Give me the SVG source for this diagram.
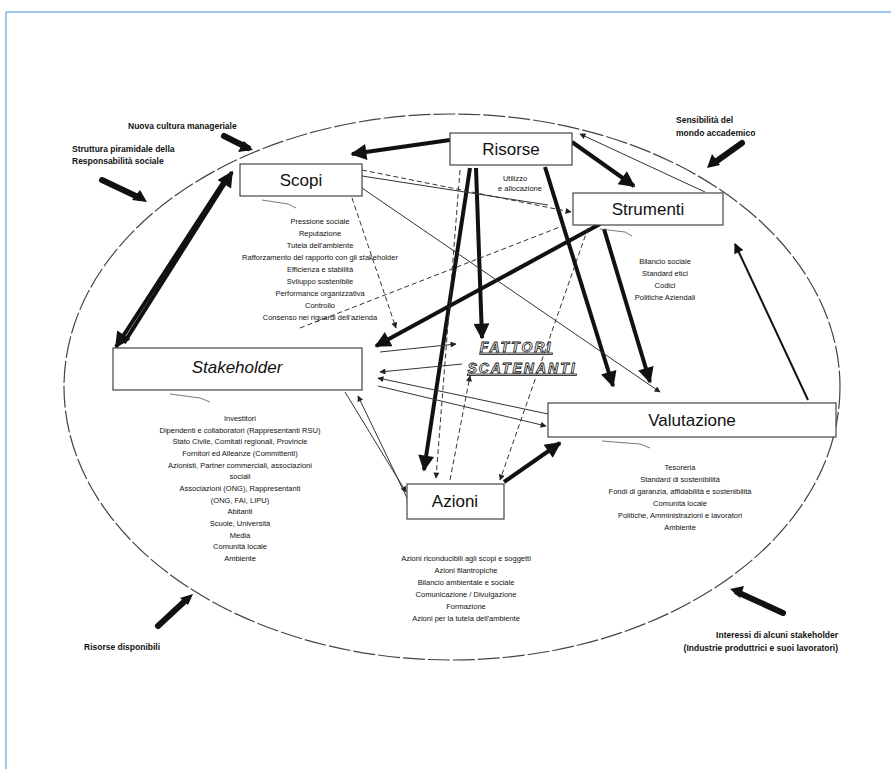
<svg xmlns="http://www.w3.org/2000/svg" width="891" height="769" viewBox="0 0 891 769">
<defs>
<style>
.frame{fill:none;stroke:#7fb8e6;stroke-width:1.5}
.ell{fill:none;stroke:#444;stroke-width:1.2;stroke-dasharray:22 3}
.box{fill:#fff;stroke:#444;stroke-width:1.2}
.lbl{font-family:"Liberation Sans",Arial,sans-serif;font-size:17px;fill:#111;text-anchor:middle}
.lst{font-family:"Liberation Sans",Arial,sans-serif;font-size:7.5px;fill:#111;text-anchor:middle}
.ext{font-family:"Liberation Sans",Arial,sans-serif;font-size:8.5px;font-weight:bold;fill:#111}
.fat{font-family:"Liberation Sans",Arial,sans-serif;font-size:14px;font-weight:bold;font-style:italic;fill:#fff;stroke:#111;stroke-width:0.8;text-anchor:middle;text-decoration:underline;letter-spacing:2px}
.thick{stroke:#111;stroke-width:4;fill:none}
.med{stroke:#111;stroke-width:2;fill:none}
.thin{stroke:#333;stroke-width:1;fill:none}
.dash{stroke:#333;stroke-width:1;fill:none;stroke-dasharray:5 3}
.blunt{stroke:#111;stroke-width:6;fill:none;stroke-linecap:round}
.tail{stroke:#555;stroke-width:0.8;fill:none}
</style>
<marker id="ah" viewBox="0 0 10 10" refX="9" refY="5" markerWidth="18" markerHeight="16" markerUnits="userSpaceOnUse" orient="auto"><path d="M0,0 L10,5 L0,10 z" fill="#111"/></marker>
<marker id="am" viewBox="0 0 10 10" refX="9" refY="5" markerWidth="12" markerHeight="10" markerUnits="userSpaceOnUse" orient="auto"><path d="M0,0 L10,5 L0,10 z" fill="#111"/></marker>
<marker id="at" viewBox="0 0 10 10" refX="9" refY="5" markerWidth="7" markerHeight="6" markerUnits="userSpaceOnUse" orient="auto"><path d="M0,0 L10,5 L0,10 z" fill="#222"/></marker>
</defs>
<rect width="891" height="769" fill="#fff"/>
<path class="frame" d="M6,780 L6,12 L900,12"/>
<ellipse class="ell" cx="452" cy="387" rx="388" ry="273"/>

<g id="external-labels">
<text class="ext" x="128" y="129">Nuova cultura manageriale</text>
<text class="ext" x="72" y="152">Struttura piramidale della</text>
<text class="ext" x="72" y="164">Responsabilità sociale</text>
<text class="ext" x="676" y="123">Sensibilità del</text>
<text class="ext" x="676" y="136">mondo accademico</text>
<text class="ext" x="84" y="650">Risorse disponibili</text>
<text class="ext" x="838" y="638" text-anchor="end">Interessi di alcuni stakeholder</text>
<text class="ext" x="838" y="651" text-anchor="end">(Industrie produttrici e suoi lavoratori)</text>
<line class="blunt" x1="224" y1="136" x2="248" y2="148"/>
<line class="blunt" x1="102" y1="180" x2="140" y2="198"/>
<line class="blunt" x1="742" y1="143" x2="714" y2="163"/>
<line class="blunt" x1="158" y1="626" x2="186" y2="600"/>
<line class="blunt" x1="783" y1="613" x2="737" y2="592"/>
<path d="M253,150 L238,152 L244,141 z" fill="#111"/>
<path d="M147,202 L132,200 L140,190 z" fill="#111"/>
<path d="M707,168 L712,154 L720,165 z" fill="#111"/>
<path d="M193,594 L180,598 L188,605 z" fill="#111"/>
<path d="M730,589 L744,586 L740,598 z" fill="#111"/>
</g>

<g id="connectors">
<line class="thick" x1="450" y1="140" x2="352" y2="154" marker-end="url(#ah)"/>
<line class="thick" x1="572" y1="142" x2="634" y2="186" marker-end="url(#ah)"/>
<line class="thick" x1="476" y1="168" x2="482" y2="338" marker-end="url(#ah)"/>
<line class="thick" x1="470" y1="168" x2="424" y2="470" marker-end="url(#ah)"/>
<line class="thick" x1="545" y1="167" x2="613" y2="386" marker-end="url(#ah)"/>
<line class="thick" x1="600" y1="224" x2="376" y2="346" marker-end="url(#ah)"/>
<line class="thick" x1="604" y1="229" x2="650" y2="382" marker-end="url(#ah)"/>
<line class="thick" x1="504" y1="482" x2="560" y2="443" marker-end="url(#ah)"/>
<line class="thick" x1="124" y1="343" x2="232" y2="172" marker-end="url(#ah)"/>
<line class="thick" x1="226" y1="178" x2="116" y2="347" marker-end="url(#ah)"/>
<line class="med" x1="808" y1="400" x2="735" y2="244" marker-end="url(#am)"/>
<line class="thin" x1="705" y1="192" x2="580" y2="134" marker-end="url(#at)"/>
<line class="dash" x1="362" y1="170" x2="571" y2="212" marker-end="url(#at)"/>
<line class="thin" x1="362" y1="176" x2="548" y2="205"/>
<line class="thin" x1="362" y1="188" x2="660" y2="392" marker-end="url(#at)"/>
<line class="dash" x1="352" y1="198" x2="396" y2="328" marker-end="url(#at)"/>
<line class="dash" x1="460" y1="170" x2="436" y2="478" marker-end="url(#at)"/>
<line class="dash" x1="450" y1="480" x2="470" y2="376" marker-end="url(#at)"/>
<line class="dash" x1="588" y1="228" x2="500" y2="480" marker-end="url(#at)"/>
<line class="thin" x1="345" y1="392" x2="406" y2="492" marker-end="url(#at)"/>
<line class="thin" x1="408" y1="500" x2="358" y2="396" marker-end="url(#at)"/>
<line class="thin" x1="380" y1="352" x2="456" y2="344" marker-end="url(#at)"/>
<line class="thin" x1="462" y1="364" x2="380" y2="372" marker-end="url(#at)"/>
<line class="thin" x1="378" y1="386" x2="546" y2="426" marker-end="url(#at)"/>
<line class="thin" x1="548" y1="414" x2="378" y2="378" marker-end="url(#at)"/>
<line class="dash" x1="300" y1="328" x2="565" y2="225"/>
</g>

<g id="risorse">
<rect class="box" x="450" y="133" width="122" height="32"/>
<text class="lbl" x="511" y="155">Risorse</text>
<text class="lst" x="515" y="181">Utilizzo</text>
<text class="lst" x="520" y="191">e allocazione</text>
</g>
<g id="scopi">
<rect class="box" x="240" y="164" width="122" height="32"/>
<text class="lbl" x="301" y="186">Scopi</text>
<path class="tail" d="M262,200 L288,204 L296,208"/>
<text class="lst" x="320" y="224">Pressione sociale</text>
<text class="lst" x="320" y="236">Reputazione</text>
<text class="lst" x="320" y="248">Tutela dell'ambiente</text>
<text class="lst" x="320" y="260">Rafforzamento del rapporto con gli stakeholder</text>
<text class="lst" x="320" y="272">Efficienza e stabilità</text>
<text class="lst" x="320" y="284">Sviluppo sostenibile</text>
<text class="lst" x="320" y="296">Performance organizzativa</text>
<text class="lst" x="320" y="308">Controllo</text>
<text class="lst" x="320" y="320">Consenso nei riguardi dell'azienda</text>
</g>
<g id="strumenti">
<rect class="box" x="573" y="193" width="150" height="32"/>
<text class="lbl" x="648" y="215">Strumenti</text>
<path class="tail" d="M600,229 L625,232 L632,236"/>
<text class="lst" x="665" y="264">Bilancio sociale</text>
<text class="lst" x="665" y="276">Standard etici</text>
<text class="lst" x="665" y="288">Codici</text>
<text class="lst" x="665" y="300">Politiche Aziendali</text>
</g>
<g id="fattori">
<text class="fat" x="516" y="352">FATTORI</text>
<text class="fat" x="522" y="373">SCATENANTI</text>
</g>
<g id="stakeholder">
<rect class="box" x="113" y="348" width="249" height="42"/>
<text class="lbl" x="237" y="373" font-style="italic">Stakeholder</text>
<path class="tail" d="M170,394 L200,398 L210,402"/>
<text class="lst" x="240" y="421">Investitori</text>
<text class="lst" x="240" y="433">Dipendenti e collaboratori (Rappresentanti RSU)</text>
<text class="lst" x="240" y="444">Stato Civile, Comitati regionali, Provincie</text>
<text class="lst" x="240" y="456">Fornitori ed Alleanze (Committenti)</text>
<text class="lst" x="240" y="468">Azionisti, Partner commerciali, associazioni</text>
<text class="lst" x="240" y="479">sociali</text>
<text class="lst" x="240" y="491">Associazioni (ONG), Rappresentanti</text>
<text class="lst" x="240" y="503">(ONG, FAI, LIPU)</text>
<text class="lst" x="240" y="514">Abitanti</text>
<text class="lst" x="240" y="526">Scuole, Università</text>
<text class="lst" x="240" y="538">Media</text>
<text class="lst" x="240" y="549">Comunità locale</text>
<text class="lst" x="240" y="561">Ambiente</text>
</g>
<g id="valutazione">
<rect class="box" x="548" y="403" width="288" height="34"/>
<text class="lbl" x="692" y="426">Valutazione</text>
<path class="tail" d="M602,441 L640,444 L650,448"/>
<text class="lst" x="680" y="470">Tesoreria</text>
<text class="lst" x="680" y="482">Standard di sostenibilità</text>
<text class="lst" x="680" y="494">Fondi di garanzia, affidabilità e sostenibilità</text>
<text class="lst" x="680" y="506">Comunità locale</text>
<text class="lst" x="680" y="518">Politiche, Amministrazioni e lavoratori</text>
<text class="lst" x="680" y="530">Ambiente</text>
</g>
<g id="azioni">
<rect class="box" x="407" y="484" width="97" height="35"/>
<text class="lbl" x="455" y="507">Azioni</text>
<text class="lst" x="466" y="561">Azioni riconducibili agli scopi e soggetti</text>
<text class="lst" x="466" y="573">Azioni filantropiche</text>
<text class="lst" x="466" y="585">Bilancio ambientale e sociale</text>
<text class="lst" x="466" y="597">Comunicazione / Divulgazione</text>
<text class="lst" x="466" y="609">Formazione</text>
<text class="lst" x="466" y="621">Azioni per la tutela dell'ambiente</text>
</g>
</svg>
